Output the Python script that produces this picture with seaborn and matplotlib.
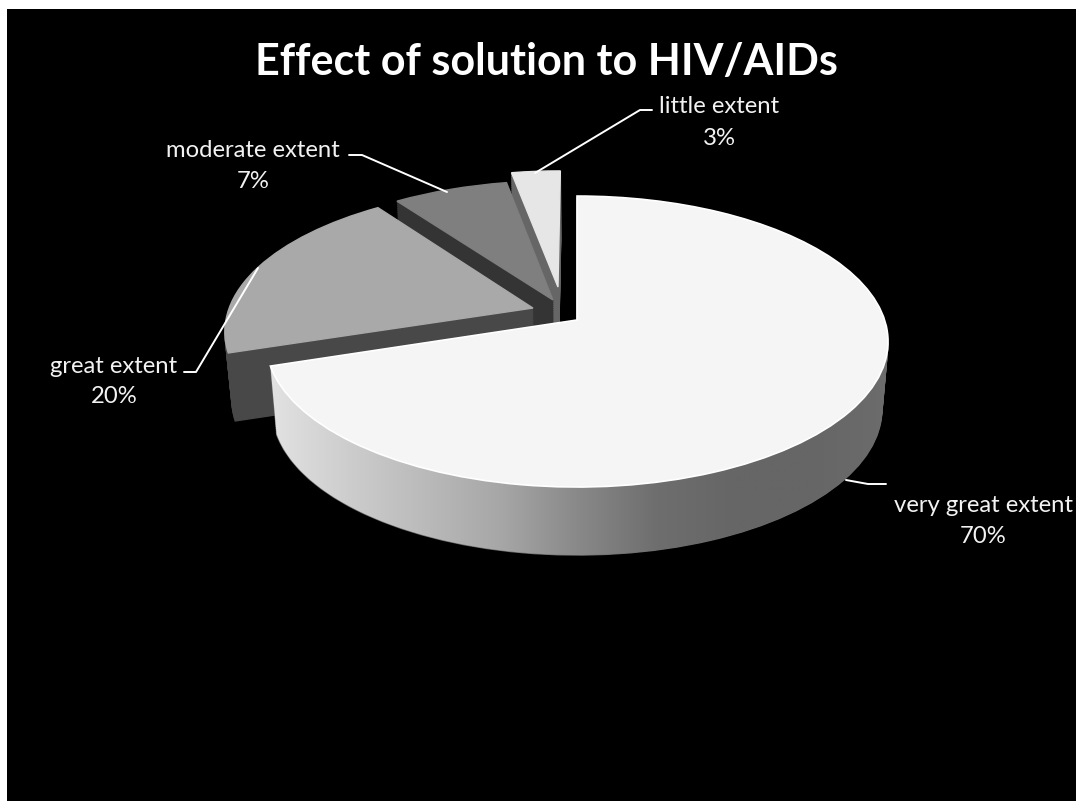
import numpy as np
import matplotlib
matplotlib.use('Agg')
import matplotlib.pyplot as plt
import matplotlib.transforms as mtrans
from matplotlib.patches import Polygon
import seaborn as sns

# data, clockwise from 12 o'clock
categories = ['very great extent', 'great extent', 'moderate extent', 'little extent']
shares = [70, 20, 7, 3]

# top face / cut face greys
top_colors = ['#f5f5f5', '#a9a9a9', '#7f7f7f', '#e6e6e6']
side_colors = ['#6c6c6c', '#484848', '#343434', '#666666']
rim_colors = ['#e2e2e2', '#cdcdcd', '#bababa', '#a6a6a6', '#888888', '#6e6e6e', '#666666', '#666666', '#6c6c6c']
slice_offset = [(0, 0), (-0.145, 0.085), (-0.080, 0.144), (-0.064, 0.24)]
draw_order = [3, 2, 1, 0]

# where each label goes: text x, first line y, second line y
label_pos = [(983, 506, 537), (114, 367, 397), (253, 151, 182), (719, 107, 139)]
leaders = [[(846, 480), (868, 484), (886, 484)],
           [(184, 372), (196, 372), (258, 268)],
           [(349, 155), (362, 155), (447, 192)],
           [(535, 173), (640, 110), (652, 110)]]

# fake perspective of the 3d pie
CX, CY = 577, 320
A, B, C = 142.3, 0.148, 307.6
DEPTH, SHRINK = 68, 0.02


def project(x, y, z):
    w = 1 + B * y
    return CX + C * x / w * (1 - SHRINK * z), CY - A * y / w + DEPTH * z


class PieView(mtrans.Transform):
    input_dims = 2
    output_dims = 2

    def __init__(self, z):
        super().__init__()
        self.z = z

    def transform_non_affine(self, values):
        values = np.asarray(values)
        return np.column_stack(project(values[:, 0], values[:, 1], self.z))


sns.set_theme(style='white')
plt.rcParams['font.family'] = ['Lato', 'DejaVu Sans']

fig = plt.figure(figsize=(10.76, 8.01), dpi=100, facecolor='white')
ax = fig.add_axes([7 / 1076, 0, 1 - 7 / 1076, 1 - 9 / 801])


def draw_pie(z, colors, edge=None):
    wedges, _ = ax.pie(shares, startangle=90, counterclock=False)
    for i, w in enumerate(wedges):
        w.set_center(slice_offset[i])
        w.set_transform(PieView(z) + ax.transData)
        w.set_facecolor(colors[i])
        w.set_edgecolor(colors[i] if edge is None else edge[i])
        w.set_linewidth(1.0)
        w.set_zorder(draw_order[i] + 1)
    return wedges


# extrude downwards, deepest layer first
for z in np.linspace(1, 0.02, 36):
    draw_pie(z, side_colors)

# gradient on the rim of the large slice
theta = np.radians(np.linspace(-162, 30, 200))
fx, fy = project(np.cos(theta), np.sin(theta), 0)
bx, by = project(np.cos(theta), np.sin(theta), 1)
rim = Polygon(np.column_stack([np.r_[fx, bx[::-1]], np.r_[fy, by[::-1]]]),
              closed=True, transform=ax.transData, facecolor='none', edgecolor='none')
ax.add_patch(rim)
rim_cmap = sns.blend_palette(rim_colors, as_cmap=True)
img = ax.imshow(np.linspace(0, 1, 256)[None, :], cmap=rim_cmap, extent=(270, 890, 570, 250),
                aspect='auto', zorder=4.5)
img.set_clip_path(rim)

faces = draw_pie(0, top_colors, edge=['#ffffff', '#a9a9a9', '#7f7f7f', '#e6e6e6'])
faces[0].set_zorder(5)
faces[0].set_linewidth(1.2)

ax.set_aspect('auto')
ax.set_xlim(7, 1076)
ax.set_ylim(801, 9)
ax.set_frame_on(True)
ax.set_facecolor('black')
ax.set_xticks([])
ax.set_yticks([])
for sp in ax.spines.values():
    sp.set_visible(False)

# labels and leader lines
for i, name in enumerate(categories):
    tx, y1, y2 = label_pos[i]
    ax.text(tx, y1, name, color='#f2f2f2', fontsize=17.2, ha='center', va='center', zorder=8)
    ax.text(tx, y2, f'{shares[i]}%', color='#f2f2f2', fontsize=17.2, ha='center', va='center', zorder=8)
    lx, ly = zip(*leaders[i])
    ax.plot(lx, ly, color='white', lw=1.4, zorder=7, solid_joinstyle='round')

ax.text(546, 62, 'Effect of solution to HIV/AIDs', color='white', fontsize=31,
        fontweight='bold', ha='center', va='center', zorder=8)

fig.savefig('out.png', dpi=100, facecolor=fig.get_facecolor())
